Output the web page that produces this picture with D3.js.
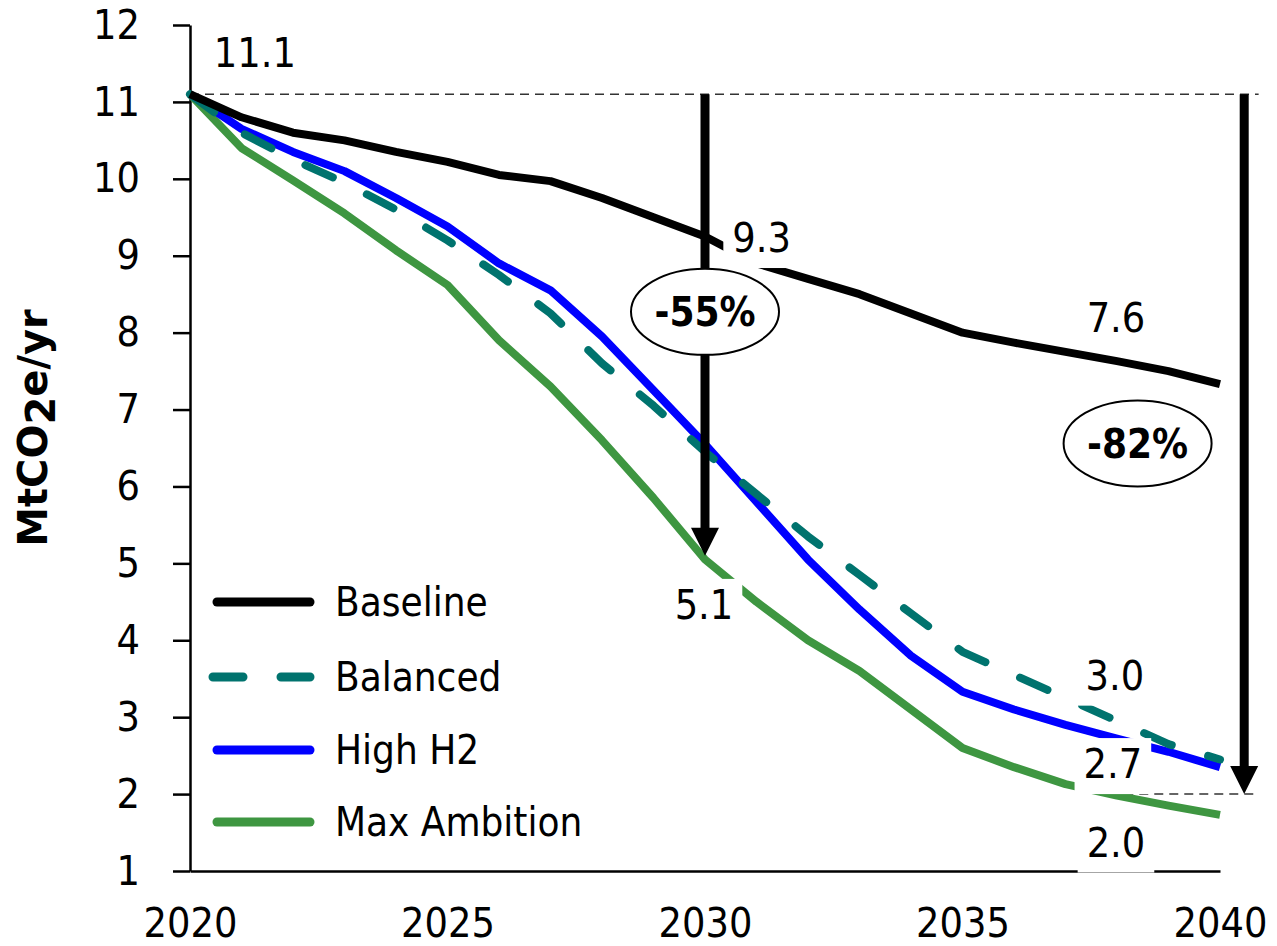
<!DOCTYPE html>
<html>
<head>
<meta charset="utf-8">
<script src="https://cdn.jsdelivr.net/npm/d3@7"></script>
<style>
  body { margin: 0; background: #fff; }
  text { font-family: 'DejaVu Sans Condensed', 'DejaVu Sans', sans-serif; fill: #000; }
</style>
</head>
<body>
<div id="container"></div>
<script>
var width = 1277,
    height = 946;

// data
var years = [2020, 2021, 2022, 2023, 2024, 2025, 2026, 2027, 2028, 2029, 2030,
             2031, 2032, 2033, 2034, 2035, 2036, 2037, 2038, 2039, 2040];
var baseline    = [11.1, 10.8, 10.6, 10.5, 10.35, 10.22, 10.05, 9.97, 9.75, 9.5, 9.25,
                   8.9, 8.7, 8.5, 8.25, 8.0, 7.87, 7.75, 7.63, 7.5, 7.33];
var balanced    = [11.1, 10.6, 10.25, 9.95, 9.6, 9.2, 8.75, 8.25, 7.6, 7.05, 6.45,
                   5.9, 5.35, 4.85, 4.35, 3.85, 3.55, 3.25, 2.95, 2.65, 2.45];
var highH2      = [11.1, 10.65, 10.35, 10.1, 9.75, 9.38, 8.9, 8.55, 7.95, 7.25, 6.55,
                   5.8, 5.05, 4.4, 3.8, 3.33, 3.1, 2.9, 2.72, 2.55, 2.35];
var maxAmbition = [11.1, 10.4, 9.98, 9.55, 9.07, 8.62, 7.9, 7.3, 6.6, 5.85, 5.05,
                   4.5, 4.0, 3.6, 3.1, 2.6, 2.35, 2.13, 1.98, 1.85, 1.73];

var seriesNames = ["Baseline", "Balanced", "High H2", "Max Ambition"];
var yTicks = [1, 2, 3, 4, 5, 6, 7, 8, 9, 10, 11, 12];
var xTicks = [2020, 2025, 2030, 2035, 2040];

// annotations (data units)
var refStart = 11.1, ref2030 = 5.1, ref2040 = 2.0;
var arrowYears = [2030, 2040.47];
var callouts = [
  {text: "-55%", year: 2030, value: 8.27},
  {text: "-82%", year: 2038.4, value: 6.56}
];
var valueLabels = [
  {text: "11.1", year: 2021.26, value: 11.65},
  {text: "9.3",  year: 2031.1,  value: 9.24},
  {text: "7.6",  year: 2037.98, value: 8.2},
  {text: "5.1",  year: 2029.98, value: 4.47},
  {text: "3.0",  year: 2037.96, value: 3.55},
  {text: "2.7",  year: 2037.92, value: 2.40},
  {text: "2.0",  year: 2037.98, value: 1.38}
];

var series = [
  {name: "Max Ambition", values: maxAmbition, color: "#3e9641", dash: null},
  {name: "High H2",      values: highH2,      color: "#0000ff", dash: null},
  {name: "Balanced",     values: balanced,    color: "#00736e", dash: "30,38"},
  {name: "Baseline",     values: baseline,    color: "#000000", dash: null}
];

var svg = d3.select("#container")
            .append("svg")
            .attr("width", width)
            .attr("height", height);

var x = d3.scaleLinear().domain([2020, 2040]).range([190, 1220]);
var y = d3.scaleLinear().domain([1, 12]).range([871, 25]);

// axes
var yAxis = svg.append("g")
   .attr("transform", "translate(190,0)")
   .call(d3.axisLeft(y).tickValues(yTicks).tickSize(17).tickSizeOuter(0).tickPadding(33));

var xAxis = svg.append("g")
   .attr("transform", "translate(0,871)")
   .call(d3.axisBottom(x).tickValues(xTicks).tickSize(0).tickSizeOuter(0).tickPadding(37)
           .tickFormat(d3.format("d")));

[yAxis, xAxis].forEach(function(a){
  a.selectAll("path, line").attr("stroke", "#000").attr("stroke-width", 2.5);
  a.selectAll("text").attr("font-size", 41).attr("font-family", null);
});

// y title
svg.append("text")
   .attr("transform", "translate(47,428) rotate(-90)")
   .attr("text-anchor", "middle")
   .attr("font-size", 40)
   .attr("font-weight", "bold")
   .style("font-family", "'DejaVu Sans', sans-serif")
   .call(function(t){
     t.append("tspan").text("MtCO");
     t.append("tspan").attr("dy", 8).text("2");
     t.append("tspan").attr("dy", -8).text("e/yr");
   });

// reference dashed lines
svg.append("line")
   .attr("x1", x(2020)).attr("x2", x(2040.75))
   .attr("y1", y(refStart)).attr("y2", y(refStart))
   .attr("stroke", "#333").attr("stroke-width", 1.5).attr("stroke-dasharray", "9,6");

svg.append("line")
   .attr("x1", x(2037.85)).attr("x2", x(2040.75))
   .attr("y1", y(ref2040)).attr("y2", y(ref2040))
   .attr("stroke", "#333").attr("stroke-width", 1.5).attr("stroke-dasharray", "9,6");

// series lines
var line = d3.line()
    .x(function(d, i){ return x(years[i]); })
    .y(function(d){ return y(d); });

svg.selectAll(".series")
   .data(series)
   .enter().append("path")
   .attr("class", "series")
   .attr("d", function(d){ return line(d.values); })
   .attr("fill", "none")
   .attr("stroke", function(d){ return d.color; })
   .attr("stroke-width", 8)
   .attr("stroke-linejoin", "round")
   .attr("stroke-linecap", function(d){ return d.dash ? "round" : "butt"; })
   .attr("stroke-dasharray", function(d){ return d.dash; });

// value labels with white boxes
var labs = svg.append("g").attr("id", "labels");
valueLabels.forEach(function(l){
  var g = labs.append("g");
  var t = g.append("text")
     .attr("x", x(l.year)).attr("y", y(l.value))
     .attr("dy", "0.36em")
     .attr("text-anchor", "middle")
     .attr("font-size", 41)
     .text(l.text);
  var b = t.node().getBBox();
  g.insert("rect", "text")
     .attr("x", b.x - 9).attr("y", b.y - 2)
     .attr("width", b.width + 18).attr("height", b.height + 8)
     .attr("fill", "#fff");
});

// arrows
var ends = [ref2030, ref2040];
arrowYears.forEach(function(yr, i){
  var ax = x(yr), tip = y(ends[i]);
  svg.append("line")
     .attr("x1", ax).attr("x2", ax)
     .attr("y1", y(refStart)).attr("y2", tip - 20)
     .attr("stroke", "#000").attr("stroke-width", 9);
  svg.append("path")
     .attr("d", "M" + (ax - 14) + "," + (tip - 28) + "L" + (ax + 14) + "," + (tip - 28) + "L" + ax + "," + tip + "Z")
     .attr("fill", "#000");
});

// callout ellipses
callouts.forEach(function(c){
  svg.append("ellipse")
     .attr("cx", x(c.year)).attr("cy", y(c.value))
     .attr("rx", 74).attr("ry", 43)
     .attr("fill", "#fff").attr("stroke", "#000").attr("stroke-width", 2);
  svg.append("text")
     .attr("x", x(c.year)).attr("y", y(c.value))
     .attr("dy", "0.36em")
     .attr("text-anchor", "middle")
     .attr("font-size", 40)
     .attr("font-weight", "bold")
     .text(c.text);
});

// legend
var legend = svg.append("g").attr("id", "legend");
var legendY = [602, 677, 750, 822];
seriesNames.forEach(function(name, i){
  var s = series.filter(function(d){ return d.name == name; })[0];
  legend.append("line")
     .attr("x1", s.dash ? 213 : 217).attr("x2", 310)
     .attr("y1", legendY[i]).attr("y2", legendY[i])
     .attr("stroke", s.color).attr("stroke-width", 9)
     .attr("stroke-linecap", "round")
     .attr("stroke-dasharray", s.dash);
  legend.append("text")
     .attr("x", 335).attr("y", legendY[i])
     .attr("dy", "0.36em")
     .attr("font-size", 40)
     .text(name);
});
</script>
</body>
</html>
